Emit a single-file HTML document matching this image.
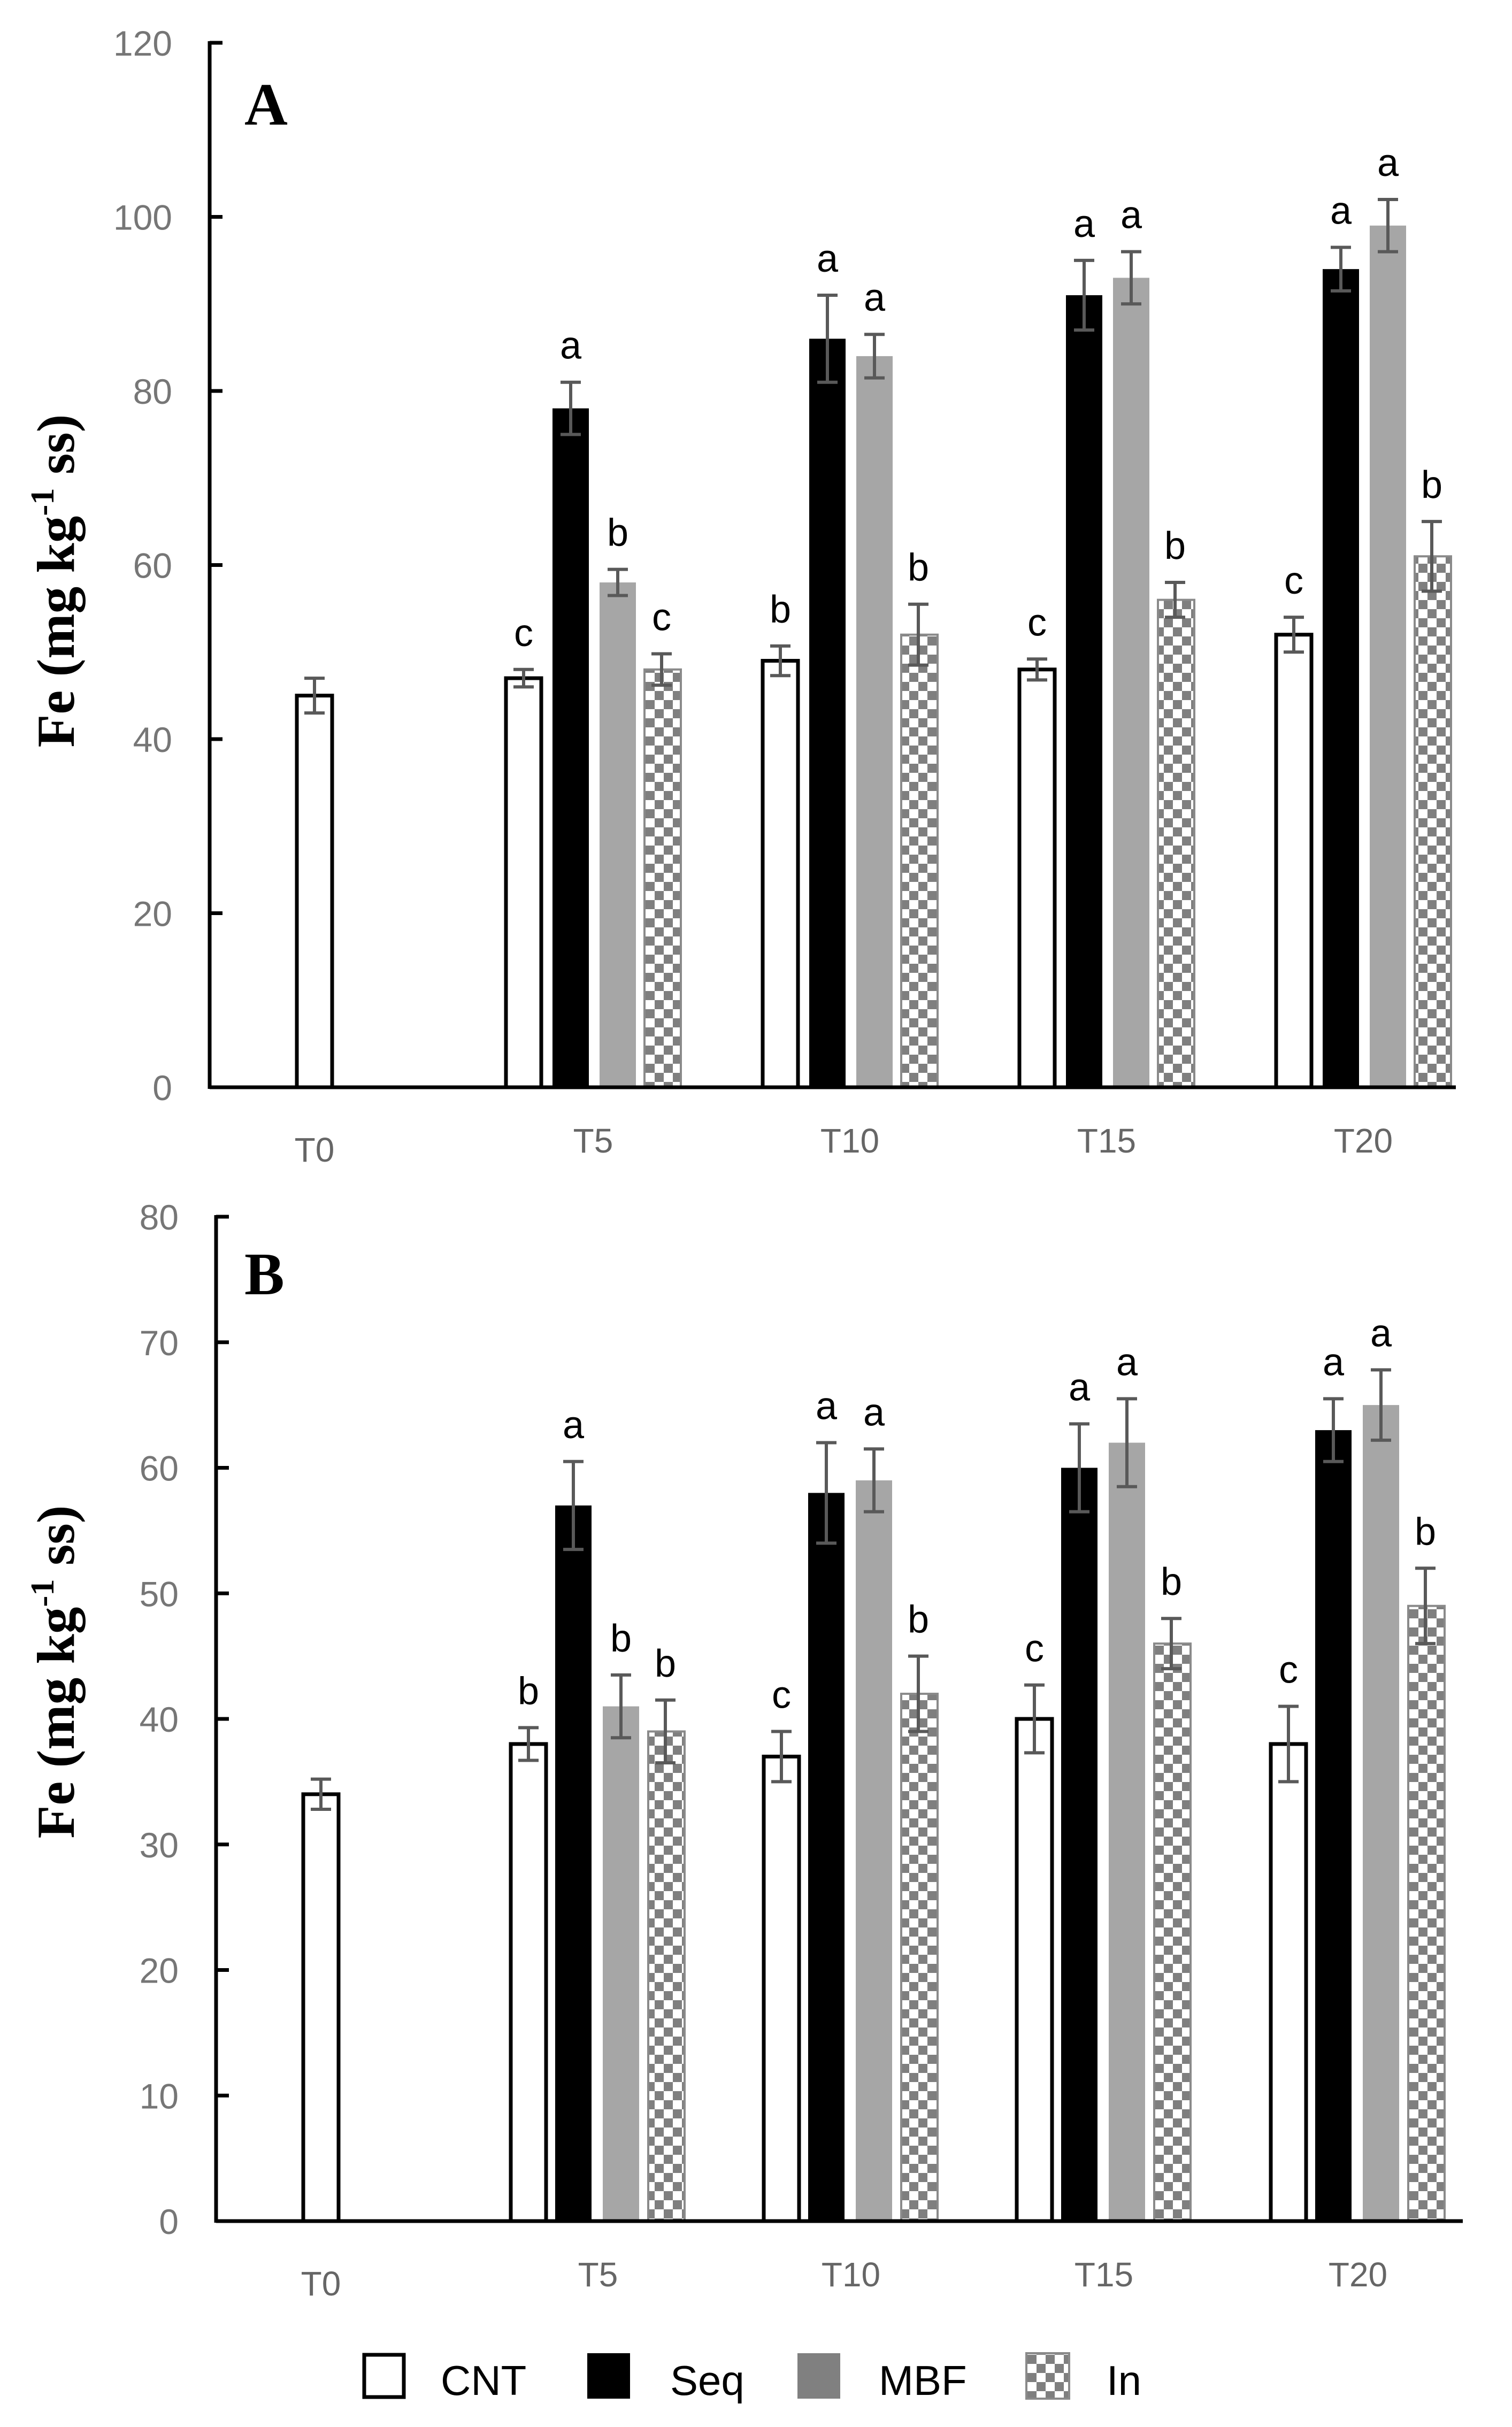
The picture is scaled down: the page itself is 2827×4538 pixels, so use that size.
<!DOCTYPE html>
<html><head><meta charset="utf-8"><style>
html,body{margin:0;padding:0;background:#fff}
svg{display:block}
</style></head><body>
<svg id="chart" width="2827" height="4538" viewBox="0 0 2827 4538" xmlns="http://www.w3.org/2000/svg">
<defs>
<pattern id="checker" width="34" height="34" patternUnits="userSpaceOnUse">
<rect width="34" height="34" fill="#fff"/>
<rect width="17" height="17" fill="#7f7f7f"/>
<rect x="17" y="17" width="17" height="17" fill="#7f7f7f"/>
</pattern>
</defs>
<g id="root"></g>
</svg>
<script>
const categories = ["T0","T5","T10","T15","T20"];
const seriesNames = ["CNT","Seq","MBF","In"];
// Panel A values (mg kg-1 ss); null = no bar
const aCNT = [45,47,49,48,52];
const aSeq = [null,78,86,91,94];
const aMBF = [null,58,84,93,99];
const aIn  = [null,48,52,56,61];
const aCNTerr = [2,1,1.7,1.2,2];
const aSeqErr = [0,3,5,4,2.5];
const aMBFerr = [0,1.5,2.5,3,3];
const aInErr  = [0,1.8,3.5,2,4];
const aCNTlet = ["","c","b","c","c"];
const aSeqLet = ["","a","a","a","a"];
const aMBFlet = ["","b","a","a","a"];
const aInLet  = ["","c","b","b","b"];
const aTicks = [0,20,40,60,80,100,120];
// Panel B values
const bCNT = [34,38,37,40,38];
const bSeq = [null,57,58,60,63];
const bMBF = [null,41,59,62,65];
const bIn  = [null,39,42,46,49];
const bCNTerr = [1.2,1.3,2,2.7,3];
const bSeqErr = [0,3.5,4,3.5,2.5];
const bMBFerr = [0,2.5,2.5,3.5,2.8];
const bInErr  = [0,2.5,3,2,3];
const bCNTlet = ["","b","c","c","c"];
const bSeqLet = ["","a","a","a","a"];
const bMBFlet = ["","b","a","a","b"].map((v,i)=>i===4?"a":v);
const bInLet  = ["","b","b","b","b"];
const bTicks = [0,10,20,30,40,50,60,70,80];

const NS="http://www.w3.org/2000/svg";
const root=document.getElementById('root');
function el(tag,attrs,parent){const e=document.createElementNS(NS,tag);for(const k in attrs)e.setAttribute(k,attrs[k]);(parent||root).appendChild(e);return e;}

function panel(cfg){
  const g=el('g',{});
  
  
  const y=v=>cfg.y0-(v-cfg.min)/(cfg.max-cfg.min)*(cfg.y0-cfg.yTop);
  // bars
  const series=[[cfg.cnt,cfg.cntE,cfg.cntL],[cfg.seq,cfg.seqE,cfg.seqL],[cfg.mbf,cfg.mbfE,cfg.mbfL],[cfg.inn,cfg.inE,cfg.inL]];
  const offs=cfg.offs;
  categories.forEach((c,ci)=>{
    series.forEach((s,si)=>{
      const v=s[0][ci]; if(v==null) return;
      const x=(ci===0?cfg.t0x:cfg.gx[ci-1]+offs[si]);
      const w=72, top=y(v);
      let r;
      if(si===0) r=el('rect',{x:x+3,y:top,width:w-6,height:cfg.y0-top,fill:'#fff',stroke:'#000','stroke-width':7},g);
      else if(si===1) r=el('rect',{x:x,y:top,width:w-4,height:cfg.y0-top,fill:'#000'},g);
      else if(si===2) r=el('rect',{x:x,y:top,width:w-4,height:cfg.y0-top,fill:'#a6a6a6'},g);
      else r=el('rect',{x:x+2,y:top,width:w-4,height:cfg.y0-top,fill:'url(#checker)',stroke:'#8a8a8a','stroke-width':4},g);
      
      
      const cx=x+w/2-(si===0?0:2), e=s[1][ci];
      const eg=el('g',{stroke:'#595959','stroke-width':6},g);
      
      
      el('line',{x1:cx,x2:cx,y1:y(v+e),y2:y(v-e)},eg);
      el('line',{x1:cx-19,x2:cx+19,y1:y(v+e),y2:y(v+e)},eg);
      el('line',{x1:cx-19,x2:cx+19,y1:y(v-e),y2:y(v-e)},eg);
      const lt=s[2][ci];
      if(lt){const t=el('text',{x:cx,y:y(v+e)-44,'text-anchor':'middle','font-family':'Liberation Sans, sans-serif','font-size':72,fill:'#000'},g);t.textContent=lt;
        }
    });
    const lx=ci===0?cfg.t0x+36:cfg.gx[ci-1]+166;
    const t=el('text',{x:lx,y:cfg.y0+(ci===0?139:122),'text-anchor':'middle','font-family':'Liberation Sans, sans-serif','font-size':64,fill:'#666'},g);
    t.textContent=c;
    
  });
  // axes
  const ax=el('g',{stroke:'#000','stroke-width':7},g);
  
  el('line',{x1:cfg.ax,x2:cfg.ax,y1:cfg.yTop-3,y2:cfg.y0+3},ax);
  el('line',{x1:cfg.ax,x2:cfg.xEnd,y1:cfg.y0,y2:cfg.y0},ax);
  cfg.ticks.forEach(tv=>{
    el('line',{x1:cfg.ax,x2:cfg.ax+24,y1:y(tv),y2:y(tv)},ax);
    const t=el('text',{x:cfg.ax-70,y:y(tv)+24,'text-anchor':'end','font-family':'Liberation Sans, sans-serif','font-size':66,fill:'#767676'},g);
    t.textContent=tv;
    
  });
  const ttl=el('text',{transform:`translate(138,${cfg.titleY}) rotate(-90)`,'text-anchor':'middle','font-family':'Liberation Serif, serif','font-weight':'bold','font-size':100,fill:'#000',textLength:623,lengthAdjust:'spacingAndGlyphs'},g);
  ttl.innerHTML='Fe (mg kg<tspan dy="-38" font-size="62">-1</tspan><tspan dy="38"> ss)</tspan>';
  
  const pl=el('text',{x:457,y:cfg.letterY,'font-family':'Liberation Serif, serif','font-weight':'bold','font-size':112,fill:'#000'},g);
  pl.textContent=cfg.id;
  
}

panel({id:'A',min:0,max:120,y0:2033,yTop:80,ax:392,xEnd:2722,t0x:552,gx:[943,1423,1903,2383],offs:[0,90,178,260],
  cnt:aCNT,seq:aSeq,mbf:aMBF,inn:aIn,cntE:aCNTerr,seqE:aSeqErr,mbfE:aMBFerr,inE:aInErr,
  cntL:aCNTlet,seqL:aSeqLet,mbfL:aMBFlet,inL:aInLet,ticks:aTicks,titleY:1086,letterY:233});
panel({id:'B',min:0,max:80,y0:4153,yTop:2275,ax:404,xEnd:2735,t0x:564,gx:[952,1425,1898,2373],offs:[0,86,175,258],
  cnt:bCNT,seq:bSeq,mbf:bMBF,inn:bIn,cntE:bCNTerr,seqE:bSeqErr,mbfE:bMBFerr,inE:bInErr,
  cntL:bCNTlet,seqL:bSeqLet,mbfL:bMBFlet,inL:bInLet,ticks:bTicks,titleY:3126,letterY:2420});

// legend
const lg=el('g',{});

const legBoxX=[678,1098,1491,1919], legTxtX=[824,1253,1643,2069];
seriesNames.forEach((n,i)=>{
  const eg=el('g',{},lg);
  
  const fills=['#fff','#000','#808080','url(#checker)'];
  el('rect',{x:legBoxX[i]+(i===0?3:0),y:4400+(i===0?3:0),width:80-(i===0?6:0),height:85-(i===0?6:0),fill:fills[i],stroke:i===0?'#000':(i===3?'#8a8a8a':'none'),'stroke-width':i===0?7:4},eg);
  const t=el('text',{x:legTxtX[i],y:4478,'font-family':'Liberation Sans, sans-serif','font-size':78,fill:'#000'},eg);
  t.textContent=n;
});
</script>
</body></html>
